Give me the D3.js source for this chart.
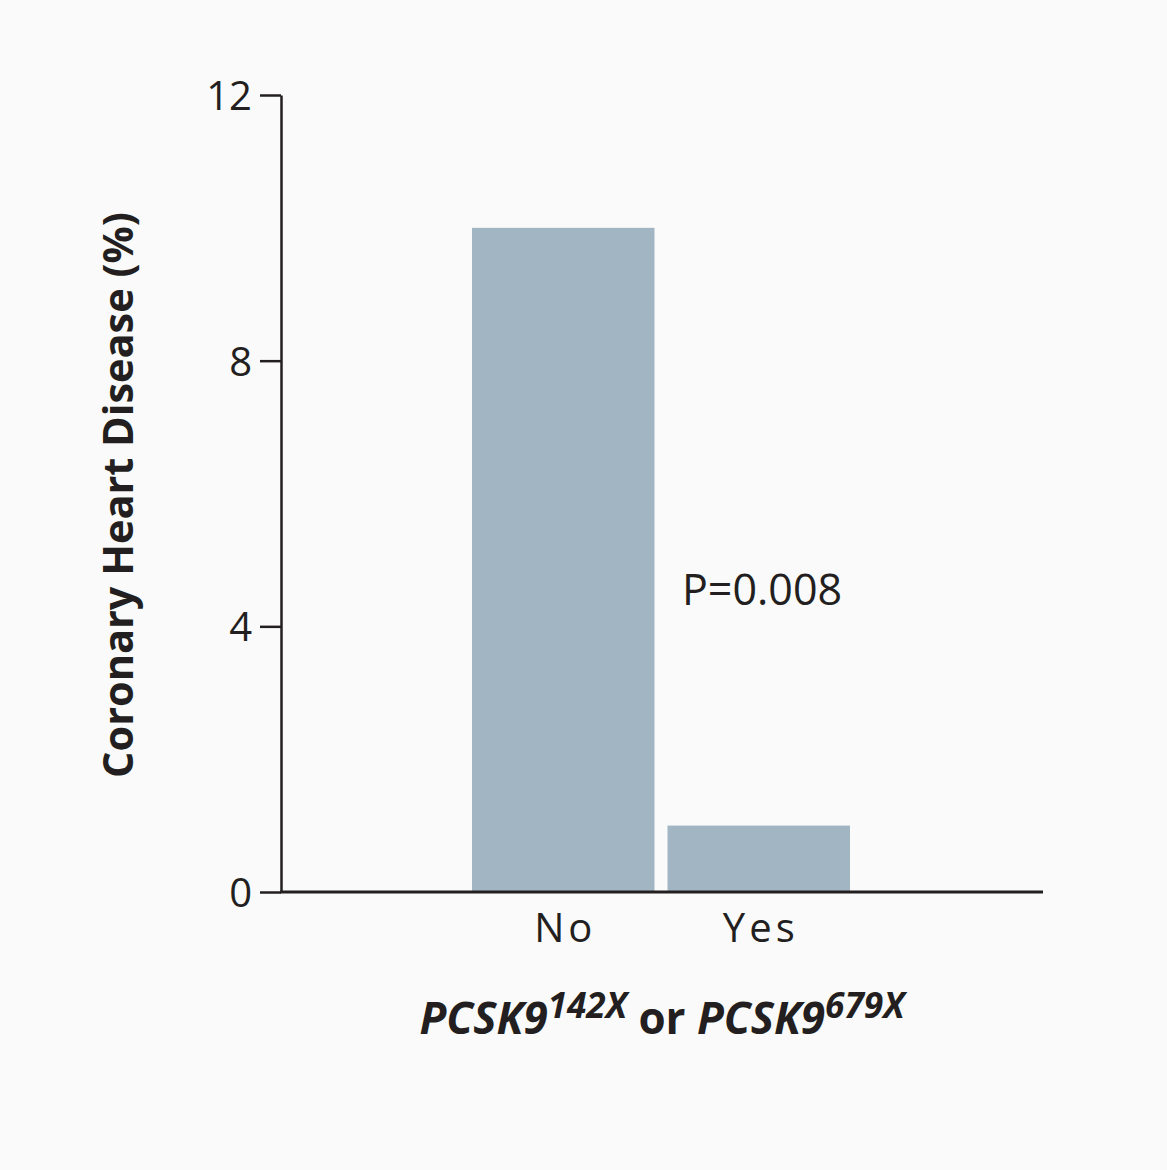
<!DOCTYPE html>
<html>
<head>
<meta charset="utf-8">
<script src="https://cdn.jsdelivr.net/npm/d3@7"></script>
<style>
  html, body { margin: 0; padding: 0; background: #fafafa; }
  svg { display: block; }
</style>
</head>
<body>
<svg id="chart" width="1167" height="1170"></svg>
<script>
const categories = ["No", "Yes"];
const values = [10.0, 1.0];
const yTicks = [0, 4, 8, 12];
const yTitle = "Coronary Heart Disease (%)";
const pLabel = "P=0.008";

const svg = d3.select("#chart");
const W = 1167, H = 1170;
svg.append("rect").attr("width", W).attr("height", H).attr("fill", "#fafafa");

const ink = "#231f20";
const font = "'Open Sans', 'Noto Sans', sans-serif";

const y = d3.scaleLinear().domain([0, 12]).range([892, 95]);
const x = d3.scaleBand().domain(categories).range([472, 850]).paddingInner(0.0665).paddingOuter(0);

// bars
svg.selectAll("rect.bar").data(categories).enter().append("rect")
  .attr("class", "bar")
  .attr("x", d => x(d))
  .attr("width", x.bandwidth())
  .attr("y", (d, i) => y(values[i]))
  .attr("height", (d, i) => y(0) - y(values[i]))
  .attr("fill", "#a2b5c3");

// y axis
const yAxis = svg.append("g").attr("transform", "translate(281,0)")
  .call(d3.axisLeft(y).tickValues(yTicks).tickSize(21).tickSizeOuter(0).tickPadding(8).tickFormat(d3.format("d")));
yAxis.select(".domain").attr("stroke", ink).attr("stroke-width", 2.5);
yAxis.selectAll(".tick line").attr("stroke", ink).attr("stroke-width", 2.5);
yAxis.selectAll(".tick text").attr("fill", ink).style("font-family", font).style("font-size", "40px").attr("dy", "0.36em");

// x axis
const xAxis = svg.append("g").attr("transform", "translate(0,892)")
  .call(d3.axisBottom(x).tickSize(0).tickPadding(50));
xAxis.select(".domain").remove();
xAxis.selectAll(".tick text").attr("fill", ink).style("font-family", font).style("font-size", "40px")
  .style("letter-spacing", "4px").attr("dx", "2px").attr("dy", "0");
svg.append("line").attr("x1", 280).attr("x2", 1043).attr("y1", y(0)).attr("y2", y(0))
  .attr("stroke", ink).attr("stroke-width", 3);

// P value
svg.append("text").attr("x", 682).attr("y", 605).text(pLabel)
  .attr("fill", ink).style("font-family", font).style("font-size", "43px");

// y title
const yt = svg.append("text")
  .attr("transform", "translate(133,495) rotate(-90)")
  .attr("text-anchor", "middle")
  .attr("fill", ink).style("font-family", font).style("font-size", "40px").style("font-weight", "bold")
  .text(yTitle);
const ytw = yt.node().getComputedTextLength();
yt.style("font-size", (40 * 566 / ytw) + "px");

// x title
function drawXTitle(base) {
  const sup = base * 0.8;
  const rise = base * 0.36;
  const t = svg.append("text").attr("x", 662).attr("y", 1034).attr("text-anchor", "middle")
    .attr("fill", ink).style("font-family", font).style("font-size", base + "px").style("font-weight", "bold");
  t.append("tspan").style("font-style", "italic").text("PCSK9");
  t.append("tspan").style("font-style", "italic").style("font-size", sup + "px").attr("dy", -rise).text("142X");
  t.append("tspan").attr("dy", rise).text(" or ");
  t.append("tspan").style("font-style", "italic").text("PCSK9");
  t.append("tspan").style("font-style", "italic").style("font-size", sup + "px").attr("dy", -rise).text("679X");
  return t;
}
let xt = drawXTitle(40);
const xtw = xt.node().getComputedTextLength();
xt.remove();
drawXTitle(Math.min(44, 40 * 485 / xtw));
</script>
</body>
</html>
